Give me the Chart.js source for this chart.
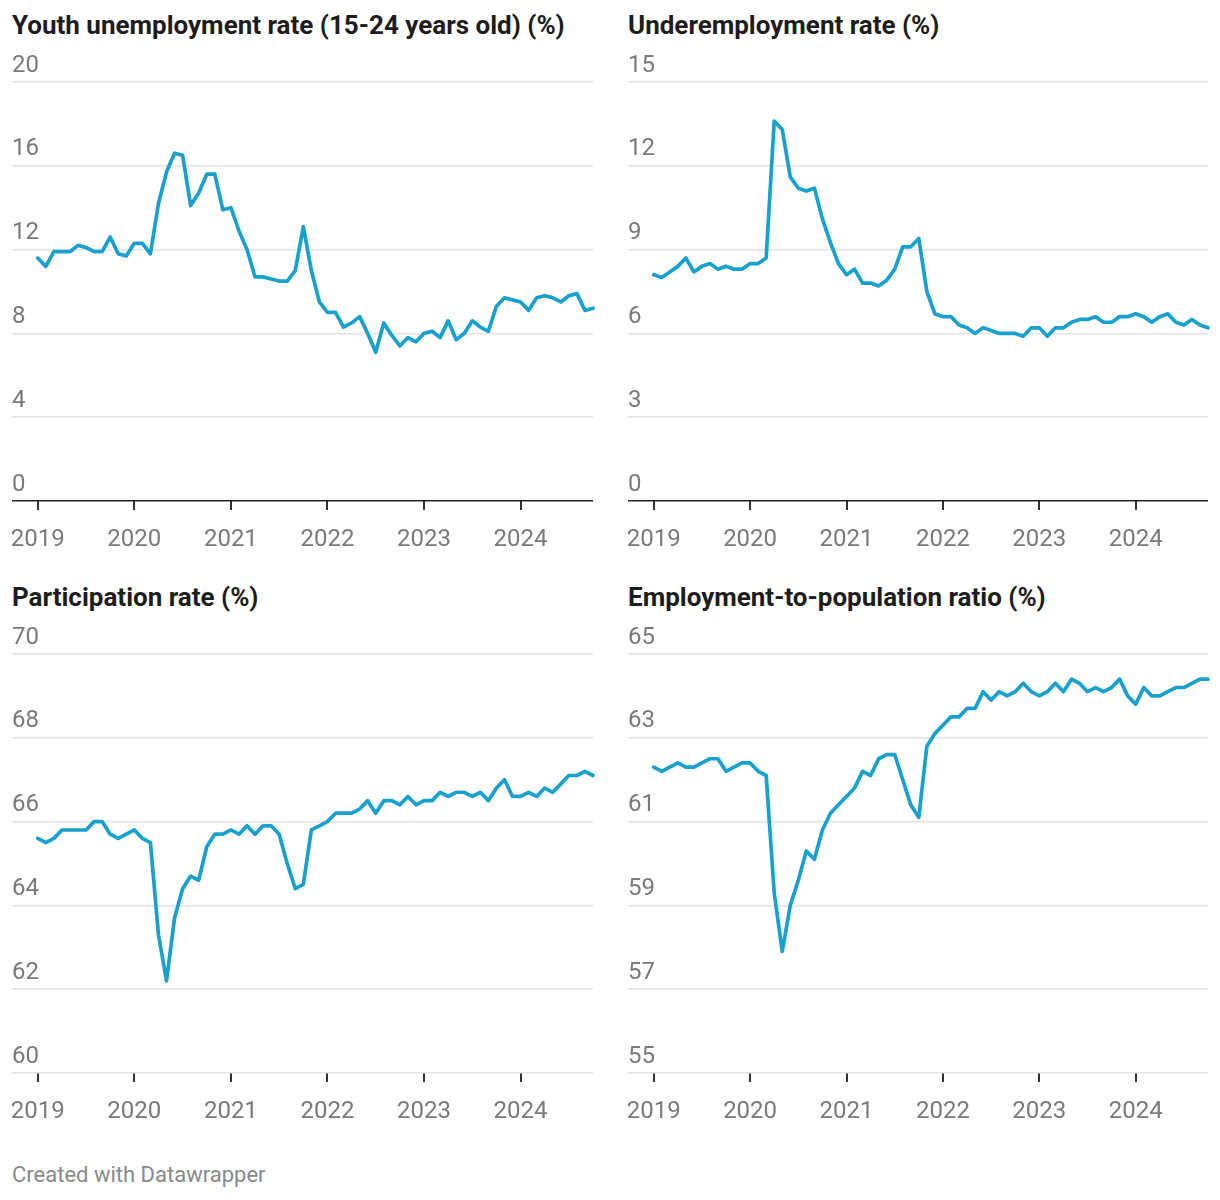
<!DOCTYPE html>
<html>
<head>
<meta charset="utf-8">
<script src="https://cdn.jsdelivr.net/npm/chart.js@4"></script>
<style>
  body { margin: 0; background: #fff; font-family: Roboto, sans-serif; }
  #wrap { position: relative; width: 1220px; height: 1200px; }
  .title { position: absolute; font-size: 26px; font-weight: 700; color: #1d1d1d; white-space: nowrap; }
  .box { position: absolute; width: 610px; height: 501px; }
  #foot { position: absolute; left: 12px; top: 1162px; font-size: 22px; color: #8a8a8a; }
</style>
</head>
<body>
<div id="wrap">
  <div class="title" style="left:12px;top:10px">Youth unemployment rate (15-24 years old) (%)</div>
  <div class="title" style="left:628px;top:10px">Underemployment rate (%)</div>
  <div class="title" style="left:12px;top:582px">Participation rate (%)</div>
  <div class="title" style="left:628px;top:582px">Employment-to-population ratio (%)</div>
  <div class="box" style="left:0;top:50px"><canvas id="c1"></canvas></div>
  <div class="box" style="left:616px;top:50px"><canvas id="c2"></canvas></div>
  <div class="box" style="left:0;top:622px"><canvas id="c3"></canvas></div>
  <div class="box" style="left:616px;top:622px"><canvas id="c4"></canvas></div>
  <div id="foot">Created with Datawrapper</div>
</div>
<script>
// monthly, Jan 2019 .. Oct 2024
var years = ['2019', '2020', '2021', '2022', '2023', '2024'];
var yearStart = [0, 12, 24, 36, 48, 60];

var youth = [11.6,11.2,11.9,11.9,11.9,12.2,12.1,11.9,11.9,12.6,
  11.8,11.7,12.3,12.3,11.8,14.2,15.7,16.6,16.5,14.1,
  14.7,15.6,15.6,13.9,14.0,12.9,12.0,10.7,10.7,10.6,
  10.5,10.5,11.0,13.1,11.0,9.5,9.0,9.0,8.3,8.5,
  8.8,8.0,7.1,8.5,7.9,7.4,7.8,7.6,8.0,8.1,
  7.8,8.6,7.7,8.0,8.6,8.3,8.1,9.3,9.7,9.6,
  9.5,9.1,9.7,9.8,9.7,9.5,9.8,9.9,9.1,9.2];

var under = [8.1,8.0,8.2,8.4,8.7,8.2,8.4,8.5,8.3,8.4,
  8.3,8.3,8.5,8.5,8.7,13.6,13.3,11.6,11.2,11.1,
  11.2,10.1,9.25,8.5,8.1,8.3,7.8,7.8,7.7,7.9,
  8.3,9.1,9.1,9.4,7.5,6.7,6.6,6.6,6.3,6.2,
  6.0,6.2,6.1,6.0,6.0,6.0,5.9,6.2,6.2,5.9,
  6.2,6.2,6.4,6.5,6.5,6.6,6.4,6.4,6.6,6.6,
  6.7,6.6,6.4,6.6,6.7,6.4,6.3,6.5,6.3,6.2];

var partic = [65.6,65.5,65.6,65.8,65.8,65.8,65.8,66.0,66.0,65.7,
  65.6,65.7,65.8,65.6,65.5,63.3,62.2,63.7,64.4,64.7,
  64.6,65.4,65.7,65.7,65.8,65.7,65.9,65.7,65.9,65.9,
  65.7,65.0,64.4,64.5,65.8,65.9,66.0,66.2,66.2,66.2,
  66.3,66.5,66.2,66.5,66.5,66.4,66.6,66.4,66.5,66.5,
  66.7,66.6,66.7,66.7,66.6,66.7,66.5,66.8,67.0,66.6,
  66.6,66.7,66.6,66.8,66.7,66.9,67.1,67.1,67.2,67.1];

var emp = [62.3,62.2,62.3,62.4,62.3,62.3,62.4,62.5,62.5,62.2,
  62.3,62.4,62.4,62.2,62.1,59.3,57.9,59.0,59.6,60.3,
  60.1,60.8,61.2,61.4,61.6,61.8,62.2,62.1,62.5,62.6,
  62.6,62.0,61.4,61.1,62.8,63.1,63.3,63.5,63.5,63.7,
  63.7,64.1,63.9,64.1,64.0,64.1,64.3,64.1,64.0,64.1,
  64.3,64.1,64.4,64.3,64.1,64.2,64.1,64.2,64.4,64.0,
  63.8,64.2,64.0,64.0,64.1,64.2,64.2,64.3,64.4,64.4];

var LINE = '#18a1cd';
var GRID = '#e3e3e3';
var TXT = '#7a7a7a';

function makeChart(id, values, yMin, yMax, yStep, padRight) {
  var pts = values.map(function (v, i) { return { x: i, y: v }; });
  new Chart(document.getElementById(id), {
    type: 'line',
    data: {
      datasets: [{
        data: pts,
        borderColor: LINE,
        borderWidth: 3.7,
        pointRadius: 0,
        tension: 0,
        borderJoinStyle: 'round',
        borderCapStyle: 'round',
        clip: false
      }]
    },
    options: {
      responsive: true,
      maintainAspectRatio: false,
      animation: false,
      layout: { padding: { left: 12, right: padRight, top: 32, bottom: 0 } },
      plugins: { legend: { display: false }, tooltip: { enabled: false } },
      scales: {
        x: {
          type: 'linear',
          min: -3.2,
          max: 69,
          afterBuildTicks: function (s) {
            s.ticks = yearStart.map(function (v) { return { value: v }; });
          },
          afterFit: function (s) {
            s.height = 50;
            s.paddingLeft = 0;
            s.paddingRight = 0;
          },
          border: { display: false },
          grid: {
            drawOnChartArea: false,
            drawTicks: true,
            tickLength: 9,
            lineWidth: 2,
            color: '#333'
          },
          ticks: {
            padding: 16,
            maxRotation: 0,
            color: TXT,
            font: { family: 'Roboto', size: 24 },
            callback: function (v) {
              var k = yearStart.indexOf(v);
              return k >= 0 ? years[k] : '';
            }
          }
        },
        y: {
          min: yMin,
          max: yMax,
          afterFit: function (s) {
            s.width = 0;
            s.paddingTop = 0;
            s.paddingBottom = 0;
          },
          border: { display: false },
          grid: {
            drawTicks: false,
            lineWidth: 1.5,
            color: function (c) { return c.tick && c.tick.value === 0 ? '#222' : GRID; }
          },
          ticks: {
            stepSize: yStep,
            mirror: true,
            padding: 0,
            labelOffset: -16.5,
            color: TXT,
            font: { family: 'Roboto', size: 24 }
          }
        }
      }
    }
  });
}

makeChart('c1', youth, 0, 20, 4, 17);
makeChart('c2', under, 0, 15, 3, 18);
makeChart('c3', partic, 60, 70, 2, 17);
makeChart('c4', emp, 55, 65, 2, 18);
</script>
</body>
</html>
